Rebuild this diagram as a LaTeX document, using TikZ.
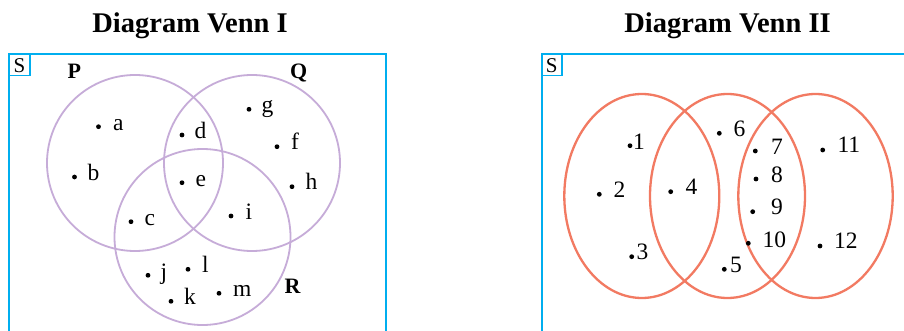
\documentclass[tikz,border=0pt]{standalone}
\usepackage{fontspec}
\setmainfont{Liberation Serif}
\definecolor{skyc}{RGB}{0,174,239}
\definecolor{lilac}{RGB}{198,172,216}
\definecolor{coral}{RGB}{242,122,98}
\begin{document}
\begin{tikzpicture}[x=1pt,y=-1pt,
  frame/.style={draw=skyc, line width=2.3pt},
  sbox/.style={draw=skyc, line width=1.8pt},
  setP/.style={draw=lilac, line width=1.8pt},
  setO/.style={draw=coral, line width=2.3pt},
  dot/.style={circle, fill=black, inner sep=0pt, minimum size=4.8pt},
  lbl/.style={anchor=base west, inner sep=0pt, font=\fontsize{23.5}{28}\selectfont},
  setname/.style={anchor=base west, inner sep=0pt, font=\fontsize{22}{26}\selectfont\bfseries},
  titletext/.style={anchor=base, inner sep=0pt, font=\fontsize{28.5}{34}\selectfont\bfseries},
  stext/.style={anchor=base, inner sep=0pt, font=\fontsize{21}{24}\selectfont}]
\useasboundingbox (0,0) rectangle (904,331);
\fill[white] (0,0) rectangle (904,331);
\clip (0,0) rectangle (904,331);

% ---------- Diagram Venn I ----------
\node[titletext] (t1) at (190,32.3) {Diagram Venn I};
\draw[frame] (9,345) -- (9,54) -- (386,54) -- (386,345);
\draw[sbox] (9,54) rectangle (29.8,75.5);
\node[stext] (s1) at (19.5,72.3) {S};

\draw[setP] (135,163) circle[radius=88pt];
\draw[setP] (252,163) circle[radius=88pt];
\draw[setP] (202.5,237) circle[radius=88pt];

\node[setname] (P) at (67.5,78.5) {P};
\node[setname] (Q) at (290,78.5) {Q};
\node[setname] (R) at (284.5,293.5) {R};

\node[dot] (da) at (98.5,126.7) {};  \node[lbl] (la) at (112.8,130.5) {a};
\node[dot] (db) at (74.5,177) {};    \node[lbl] (lb) at (87.5,181) {b};
\node[dot] (dd) at (182,135) {};     \node[lbl] (ld) at (194.5,138.3) {d};
\node[dot] (de) at (182,182.7) {};   \node[lbl] (le) at (195.5,186) {e};
\node[dot] (dc) at (131,221.7) {};   \node[lbl] (lc) at (144.5,225) {c};
\node[dot] (dg) at (249,109.3) {};   \node[lbl] (lg) at (261.5,113) {g};
\node[dot] (df) at (277,146.7) {};   \node[lbl] (lf) at (291,150) {f};
\node[dot] (dh) at (292,186.7) {};   \node[lbl] (lh) at (305.3,189.5) {h};
\node[dot] (di) at (231,216) {};     \node[lbl] (li) at (245.5,219.3) {i};
\node[dot] (dj) at (148,275.3) {};   \node[lbl] (lj) at (160.5,279) {j};
\node[dot] (dl) at (188,269.3) {};   \node[lbl] (ll) at (202,272.5) {l};
\node[dot] (dk) at (171,301.3) {};   \node[lbl] (lk) at (184,304.5) {k};
\node[dot] (dm) at (219,293.3) {};   \node[lbl] (lm) at (233,296.5) {m};

% ---------- Diagram Venn II ----------
\node[titletext] (t2) at (727.5,32.3) {Diagram Venn II};
\draw[frame] (541.7,345) -- (541.7,54) -- (915,54);
\draw[sbox] (541.7,54) rectangle (562,75.5);
\node[stext] (s2) at (551.8,72.3) {S};

\draw[setO] (641.8,196) ellipse[x radius=77.5pt, y radius=102pt];
\draw[setO] (727.5,196) ellipse[x radius=77.5pt, y radius=102pt];
\draw[setO] (815.5,196) ellipse[x radius=77.2pt, y radius=102pt];

\node[dot] (d1) at (630,145.7) {};   \node[lbl] (l1) at (633,149.3) {1};
\node[dot] (d2) at (599.3,194.3) {}; \node[lbl] (l2) at (613.5,197) {2};
\node[dot] (d3) at (631.7,256.7) {}; \node[lbl] (l3) at (636.5,259.5) {3};
\node[dot] (d4) at (670.7,191.7) {}; \node[lbl] (l4) at (685.3,194.5) {4};
\node[dot] (d6) at (719.3,133.3) {}; \node[lbl] (l6) at (733.5,136.7) {6};
\node[dot] (d7) at (755.3,151) {};   \node[lbl] (l7) at (770.8,155) {7};
\node[dot] (d8) at (756,179) {};     \node[lbl] (l8) at (770.8,182.7) {8};
\node[dot] (d9) at (752.7,211.7) {}; \node[lbl] (l9) at (770.8,214.5) {9};
\node[dot] (d10) at (748.3,243.3) {};\node[lbl] (l10) at (762.3,247.7) {10};
\node[dot] (d5) at (724.3,269.3) {}; \node[lbl] (l5) at (730,272) {5};
\node[dot] (d11) at (822.7,150) {};  \node[lbl] (l11) at (837.3,153) {11};
\node[dot] (d12) at (820,246) {};    \node[lbl] (l12) at (834,248.5) {12};
\end{tikzpicture}
\end{document}
